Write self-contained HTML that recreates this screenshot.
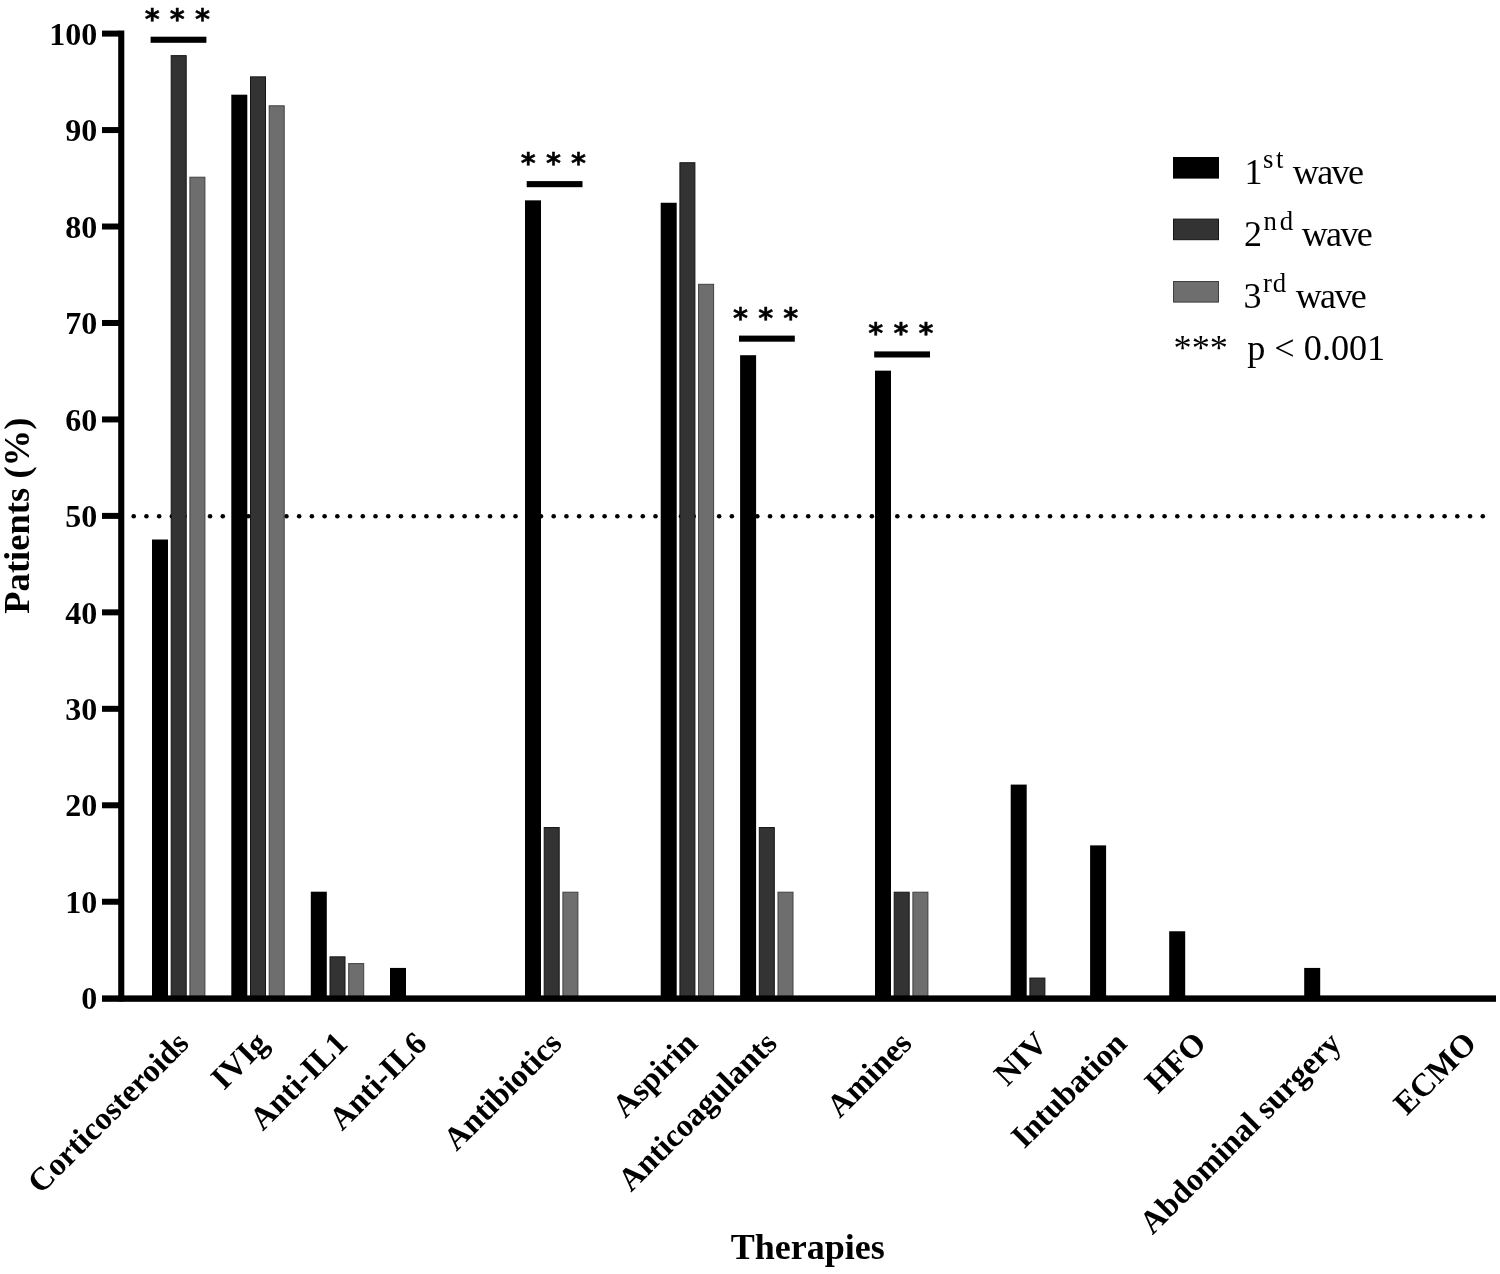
<!DOCTYPE html>
<html lang="en">
<head>
<meta charset="utf-8">
<title>Therapies by wave</title>
<style>
html,body{margin:0;padding:0;background:#fff;}
body{width:1500px;height:1274px;overflow:hidden;}
svg{display:block;}
text{font-family:"Liberation Serif",serif;fill:#000;}
.b{font-weight:bold;}
.ast{font-family:"DejaVu Sans","Liberation Sans",sans-serif;font-weight:bold;}
</style>
</head>
<body>
<svg width="1500" height="1274" viewBox="0 0 1500 1274">
<rect x="0" y="0" width="1500" height="1274" fill="#ffffff"/>

<g fill="#000">
<circle cx="133.70" cy="516.3" r="2.3"/>
<circle cx="146.43" cy="516.3" r="2.3"/>
<circle cx="159.15" cy="516.3" r="2.3"/>
<circle cx="171.88" cy="516.3" r="2.3"/>
<circle cx="184.61" cy="516.3" r="2.3"/>
<circle cx="197.33" cy="516.3" r="2.3"/>
<circle cx="210.06" cy="516.3" r="2.3"/>
<circle cx="222.79" cy="516.3" r="2.3"/>
<circle cx="235.52" cy="516.3" r="2.3"/>
<circle cx="248.24" cy="516.3" r="2.3"/>
<circle cx="260.97" cy="516.3" r="2.3"/>
<circle cx="273.70" cy="516.3" r="2.3"/>
<circle cx="286.42" cy="516.3" r="2.3"/>
<circle cx="299.15" cy="516.3" r="2.3"/>
<circle cx="311.88" cy="516.3" r="2.3"/>
<circle cx="324.61" cy="516.3" r="2.3"/>
<circle cx="337.33" cy="516.3" r="2.3"/>
<circle cx="350.06" cy="516.3" r="2.3"/>
<circle cx="362.79" cy="516.3" r="2.3"/>
<circle cx="375.51" cy="516.3" r="2.3"/>
<circle cx="388.24" cy="516.3" r="2.3"/>
<circle cx="400.97" cy="516.3" r="2.3"/>
<circle cx="413.69" cy="516.3" r="2.3"/>
<circle cx="426.42" cy="516.3" r="2.3"/>
<circle cx="439.15" cy="516.3" r="2.3"/>
<circle cx="451.88" cy="516.3" r="2.3"/>
<circle cx="464.60" cy="516.3" r="2.3"/>
<circle cx="477.33" cy="516.3" r="2.3"/>
<circle cx="490.06" cy="516.3" r="2.3"/>
<circle cx="502.78" cy="516.3" r="2.3"/>
<circle cx="515.51" cy="516.3" r="2.3"/>
<circle cx="528.24" cy="516.3" r="2.3"/>
<circle cx="540.96" cy="516.3" r="2.3"/>
<circle cx="553.69" cy="516.3" r="2.3"/>
<circle cx="566.42" cy="516.3" r="2.3"/>
<circle cx="579.14" cy="516.3" r="2.3"/>
<circle cx="591.87" cy="516.3" r="2.3"/>
<circle cx="604.60" cy="516.3" r="2.3"/>
<circle cx="617.33" cy="516.3" r="2.3"/>
<circle cx="630.05" cy="516.3" r="2.3"/>
<circle cx="642.78" cy="516.3" r="2.3"/>
<circle cx="655.51" cy="516.3" r="2.3"/>
<circle cx="668.23" cy="516.3" r="2.3"/>
<circle cx="680.96" cy="516.3" r="2.3"/>
<circle cx="693.69" cy="516.3" r="2.3"/>
<circle cx="706.41" cy="516.3" r="2.3"/>
<circle cx="719.14" cy="516.3" r="2.3"/>
<circle cx="731.87" cy="516.3" r="2.3"/>
<circle cx="744.60" cy="516.3" r="2.3"/>
<circle cx="757.32" cy="516.3" r="2.3"/>
<circle cx="770.05" cy="516.3" r="2.3"/>
<circle cx="782.78" cy="516.3" r="2.3"/>
<circle cx="795.50" cy="516.3" r="2.3"/>
<circle cx="808.23" cy="516.3" r="2.3"/>
<circle cx="820.96" cy="516.3" r="2.3"/>
<circle cx="833.68" cy="516.3" r="2.3"/>
<circle cx="846.41" cy="516.3" r="2.3"/>
<circle cx="859.14" cy="516.3" r="2.3"/>
<circle cx="871.87" cy="516.3" r="2.3"/>
<circle cx="884.59" cy="516.3" r="2.3"/>
<circle cx="897.32" cy="516.3" r="2.3"/>
<circle cx="910.05" cy="516.3" r="2.3"/>
<circle cx="922.77" cy="516.3" r="2.3"/>
<circle cx="935.50" cy="516.3" r="2.3"/>
<circle cx="948.23" cy="516.3" r="2.3"/>
<circle cx="960.95" cy="516.3" r="2.3"/>
<circle cx="973.68" cy="516.3" r="2.3"/>
<circle cx="986.41" cy="516.3" r="2.3"/>
<circle cx="999.14" cy="516.3" r="2.3"/>
<circle cx="1011.86" cy="516.3" r="2.3"/>
<circle cx="1024.59" cy="516.3" r="2.3"/>
<circle cx="1037.32" cy="516.3" r="2.3"/>
<circle cx="1050.04" cy="516.3" r="2.3"/>
<circle cx="1062.77" cy="516.3" r="2.3"/>
<circle cx="1075.50" cy="516.3" r="2.3"/>
<circle cx="1088.22" cy="516.3" r="2.3"/>
<circle cx="1100.95" cy="516.3" r="2.3"/>
<circle cx="1113.68" cy="516.3" r="2.3"/>
<circle cx="1126.41" cy="516.3" r="2.3"/>
<circle cx="1139.13" cy="516.3" r="2.3"/>
<circle cx="1151.86" cy="516.3" r="2.3"/>
<circle cx="1164.59" cy="516.3" r="2.3"/>
<circle cx="1177.31" cy="516.3" r="2.3"/>
<circle cx="1190.04" cy="516.3" r="2.3"/>
<circle cx="1202.77" cy="516.3" r="2.3"/>
<circle cx="1215.50" cy="516.3" r="2.3"/>
<circle cx="1228.22" cy="516.3" r="2.3"/>
<circle cx="1240.95" cy="516.3" r="2.3"/>
<circle cx="1253.68" cy="516.3" r="2.3"/>
<circle cx="1266.40" cy="516.3" r="2.3"/>
<circle cx="1279.13" cy="516.3" r="2.3"/>
<circle cx="1291.86" cy="516.3" r="2.3"/>
<circle cx="1304.58" cy="516.3" r="2.3"/>
<circle cx="1317.31" cy="516.3" r="2.3"/>
<circle cx="1330.04" cy="516.3" r="2.3"/>
<circle cx="1342.77" cy="516.3" r="2.3"/>
<circle cx="1355.49" cy="516.3" r="2.3"/>
<circle cx="1368.22" cy="516.3" r="2.3"/>
<circle cx="1380.95" cy="516.3" r="2.3"/>
<circle cx="1393.67" cy="516.3" r="2.3"/>
<circle cx="1406.40" cy="516.3" r="2.3"/>
<circle cx="1419.13" cy="516.3" r="2.3"/>
<circle cx="1431.85" cy="516.3" r="2.3"/>
<circle cx="1444.58" cy="516.3" r="2.3"/>
<circle cx="1457.31" cy="516.3" r="2.3"/>
<circle cx="1470.04" cy="516.3" r="2.3"/>
<circle cx="1482.76" cy="516.3" r="2.3"/>
</g>
<g stroke-width="1">
<rect x="152.00" y="539.51" width="16.00" height="459.29" fill="#000"/>
<rect x="171.20" y="55.63" width="15.00" height="943.17" fill="#333333" stroke="#141414"/>
<rect x="189.90" y="177.21" width="15.00" height="821.59" fill="#6e6e6e" stroke="#404040"/>
<rect x="231.30" y="94.69" width="16.00" height="904.11" fill="#000"/>
<rect x="250.50" y="76.86" width="15.00" height="921.94" fill="#333333" stroke="#141414"/>
<rect x="269.20" y="105.80" width="15.00" height="893.00" fill="#6e6e6e" stroke="#404040"/>
<rect x="310.80" y="891.70" width="16.00" height="107.10" fill="#000"/>
<rect x="330.00" y="956.84" width="15.00" height="41.96" fill="#333333" stroke="#141414"/>
<rect x="348.70" y="963.60" width="15.00" height="35.20" fill="#6e6e6e" stroke="#404040"/>
<rect x="390.00" y="967.92" width="16.00" height="30.88" fill="#000"/>
<rect x="525.00" y="200.35" width="16.00" height="798.45" fill="#000"/>
<rect x="544.20" y="827.55" width="15.00" height="171.25" fill="#333333" stroke="#141414"/>
<rect x="562.90" y="892.20" width="15.00" height="106.60" fill="#6e6e6e" stroke="#404040"/>
<rect x="660.70" y="202.76" width="16.00" height="796.04" fill="#000"/>
<rect x="679.90" y="162.73" width="15.00" height="836.07" fill="#333333" stroke="#141414"/>
<rect x="698.60" y="284.31" width="15.00" height="714.49" fill="#6e6e6e" stroke="#404040"/>
<rect x="740.10" y="355.21" width="16.00" height="643.59" fill="#000"/>
<rect x="759.30" y="827.55" width="15.00" height="171.25" fill="#333333" stroke="#141414"/>
<rect x="778.00" y="892.20" width="15.00" height="106.60" fill="#6e6e6e" stroke="#404040"/>
<rect x="875.00" y="370.65" width="16.00" height="628.15" fill="#000"/>
<rect x="894.20" y="892.20" width="15.00" height="106.60" fill="#333333" stroke="#141414"/>
<rect x="912.90" y="892.20" width="15.00" height="106.60" fill="#6e6e6e" stroke="#404040"/>
<rect x="1010.70" y="784.59" width="16.00" height="214.21" fill="#000"/>
<rect x="1029.90" y="978.07" width="15.00" height="20.73" fill="#333333" stroke="#141414"/>
<rect x="1090.10" y="845.38" width="16.00" height="153.42" fill="#000"/>
<rect x="1169.20" y="931.26" width="16.00" height="67.54" fill="#000"/>
<rect x="1304.20" y="967.92" width="16.00" height="30.88" fill="#000"/>
</g>
<g fill="#000">
<rect x="118.2" y="30.5" width="6.1" height="971"/>
<rect x="102" y="995.4" width="1394" height="6.4"/>
<rect x="102" y="898.74" width="17" height="6"/>
<rect x="102" y="802.28" width="17" height="6"/>
<rect x="102" y="705.82" width="17" height="6"/>
<rect x="102" y="609.36" width="17" height="6"/>
<rect x="102" y="512.90" width="17" height="6"/>
<rect x="102" y="416.44" width="17" height="6"/>
<rect x="102" y="319.98" width="17" height="6"/>
<rect x="102" y="223.52" width="17" height="6"/>
<rect x="102" y="127.06" width="17" height="6"/>
<rect x="102" y="30.60" width="17" height="6"/>
</g>
<g class="b" font-size="32" text-anchor="end">
<text x="97.3" y="1009.40">0</text>
<text x="97.3" y="912.94">10</text>
<text x="97.3" y="816.48">20</text>
<text x="97.3" y="720.02">30</text>
<text x="97.3" y="623.56">40</text>
<text x="97.3" y="527.10">50</text>
<text x="97.3" y="430.64">60</text>
<text x="97.3" y="334.18">70</text>
<text x="97.3" y="237.72">80</text>
<text x="97.3" y="141.26">90</text>
<text x="97.3" y="44.80">100</text>
</g>
<text class="b" font-size="36.6" text-anchor="middle" transform="translate(28.8 515.7) rotate(-90)">Patients (%)</text>
<text class="b" font-size="36" text-anchor="middle" x="807.8" y="1258.6">Therapies</text>
<g class="b" font-size="32.4" text-anchor="end">
<text transform="translate(190.5 1045.2) rotate(-45)">Corticosteroids</text>
<text transform="translate(269.8 1045.2) rotate(-45)">IVIg</text>
<text transform="translate(349.3 1045.2) rotate(-45)">Anti-IL1</text>
<text transform="translate(428.5 1045.2) rotate(-45)">Anti-IL6</text>
<text transform="translate(563.5 1045.2) rotate(-45)">Antibiotics</text>
<text transform="translate(699.2 1045.2) rotate(-45)">Aspirin</text>
<text transform="translate(778.6 1045.2) rotate(-45)">Anticoagulants</text>
<text transform="translate(913.5 1045.2) rotate(-45)">Amines</text>
<text transform="translate(1049.2 1045.2) rotate(-45)">NIV</text>
<text transform="translate(1128.6 1045.2) rotate(-45)">Intubation</text>
<text transform="translate(1207.7 1045.2) rotate(-45)">HFO</text>
<text transform="translate(1342.7 1045.2) rotate(-45)">Abdominal surgery</text>
<text transform="translate(1478.1 1045.2) rotate(-45)">ECMO</text>
</g>
<rect x="150.6" y="36.7" width="55.8" height="6.1" fill="#000"/>
<text class="ast" font-size="28.6" stroke="#000" stroke-width="0.45" text-anchor="middle" x="152.2" y="28.7">*</text>
<text class="ast" font-size="28.6" stroke="#000" stroke-width="0.45" text-anchor="middle" x="177.3" y="28.7">*</text>
<text class="ast" font-size="28.6" stroke="#000" stroke-width="0.45" text-anchor="middle" x="202.4" y="28.7">*</text>
<rect x="526.7" y="181.1" width="55.8" height="6.1" fill="#000"/>
<text class="ast" font-size="28.6" stroke="#000" stroke-width="0.45" text-anchor="middle" x="528.3" y="173.1">*</text>
<text class="ast" font-size="28.6" stroke="#000" stroke-width="0.45" text-anchor="middle" x="553.4" y="173.1">*</text>
<text class="ast" font-size="28.6" stroke="#000" stroke-width="0.45" text-anchor="middle" x="578.5" y="173.1">*</text>
<rect x="739.0" y="335.6" width="55.8" height="6.1" fill="#000"/>
<text class="ast" font-size="28.6" stroke="#000" stroke-width="0.45" text-anchor="middle" x="740.6" y="327.6">*</text>
<text class="ast" font-size="28.6" stroke="#000" stroke-width="0.45" text-anchor="middle" x="765.7" y="327.6">*</text>
<text class="ast" font-size="28.6" stroke="#000" stroke-width="0.45" text-anchor="middle" x="790.8" y="327.6">*</text>
<rect x="874.2" y="351.4" width="55.8" height="6.1" fill="#000"/>
<text class="ast" font-size="28.6" stroke="#000" stroke-width="0.45" text-anchor="middle" x="875.8" y="343.4">*</text>
<text class="ast" font-size="28.6" stroke="#000" stroke-width="0.45" text-anchor="middle" x="900.9" y="343.4">*</text>
<text class="ast" font-size="28.6" stroke="#000" stroke-width="0.45" text-anchor="middle" x="926.0" y="343.4">*</text>
<rect x="1173" y="157.0" width="46" height="21.6" fill="#000"/>
<rect x="1173.5" y="219.1" width="45" height="20.6" fill="#333333" stroke="#141414" stroke-width="1"/>
<rect x="1173.5" y="281.5" width="45" height="20.6" fill="#6e6e6e" stroke="#404040" stroke-width="1"/>
<text font-size="36" x="1244.6" y="184.4">1</text>
<text font-size="26.8" letter-spacing="2.6" x="1262.9" y="168.2">st</text>
<text font-size="36" letter-spacing="-1.6" x="1292.8" y="184.4">wave</text>
<text font-size="36" x="1244.0" y="246.2">2</text>
<text font-size="26.8" letter-spacing="2.9" x="1263.5" y="230.0">nd</text>
<text font-size="36" letter-spacing="-1.6" x="1301.7" y="246.2">wave</text>
<text font-size="36" x="1243.4" y="308.0">3</text>
<text font-size="26.8" letter-spacing="0.8" x="1263.1" y="291.8">rd</text>
<text font-size="36" letter-spacing="-1.6" x="1295.7" y="308.0">wave</text>
<text font-size="36.2" x="1173.6" y="359.8">***</text>
<text font-size="36.2" x="1247.2" y="359.8">p &lt; 0.001</text>
</svg>
</body>
</html>
